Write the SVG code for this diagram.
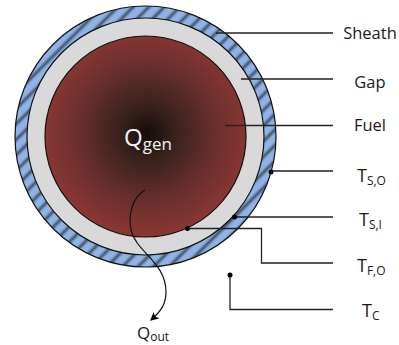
<svg xmlns="http://www.w3.org/2000/svg" width="399" height="345" viewBox="0 0 399 345">
<style>
text{font-family:"Open Sans","Noto Sans",sans-serif;fill:#1a1a1a}
.lab{font-size:16.500px;text-anchor:middle}
.tl{font-size:18px}
.sub{font-size:12px}
.c{fill:none;stroke:#111;stroke-width:1.2}
.l{fill:none;stroke:#222;stroke-width:1.3}
.d{fill:#000}
</style>
<defs>
<pattern id="hatch" width="11" height="11" patternUnits="userSpaceOnUse" patternTransform="rotate(45 145 136)">
<rect width="11" height="11" fill="#8fb4e6"/>
<rect x="0" width="2.800" height="11" fill="#2a3240"/>
</pattern>
<filter id="soft" x="-5%" y="-5%" width="110%" height="110%"><feGaussianBlur stdDeviation="0.9"/></filter>
<clipPath id="ring"><circle cx="145.500" cy="136.500" r="130.500"/></clipPath>
<radialGradient id="fuelg" gradientUnits="userSpaceOnUse" cx="147" cy="133" r="103">
<stop offset="0" stop-color="#150d0c"/>
<stop offset="0.25" stop-color="#35201c"/>
<stop offset="0.6" stop-color="#622d2a"/>
<stop offset="1" stop-color="#8a3733"/>
</radialGradient>
<marker id="arr" markerWidth="8" markerHeight="8" refX="6" refY="4" orient="auto"><path d="M0,0.500L7,4L0,7.500L1.500,4Z" fill="#000"/></marker>
</defs>
<g id="sheath"><g clip-path="url(#ring)"><rect x="5" y="-4" width="281" height="281" fill="url(#hatch)" filter="url(#soft)"/></g><circle cx="145.500" cy="136.500" r="130.500" class="c"/></g>
<g id="gap"><circle cx="145.500" cy="136.500" r="118.500" fill="#d9d9d9" stroke="#111" stroke-width="1.200"/></g>
<g id="fuel"><circle cx="145.500" cy="136.500" r="100.500" fill="url(#fuelg)" stroke="#111" stroke-width="1.200"/>
<text x="124" y="146" style="font-size:24px;fill:#f2f2f2">Q<tspan dy="4" style="font-size:17px;fill:#f2f2f2">gen</tspan></text></g>
<g id="connectors">
<path class="l" d="M216 33H333"/>
<path class="l" d="M241 79H333"/>
<path class="l" d="M225 125.500H333"/>
<path class="l" d="M271 171H333"/>
<path class="l" d="M234 217H333"/>
<path class="l" d="M187 228.500H261.500V263H333"/>
<path class="l" d="M230 275V309.500H333"/>
<circle class="d" cx="271" cy="172" r="2.500"/>
<circle class="d" cx="234.500" cy="217" r="2.500"/>
<circle class="d" cx="187.500" cy="228.500" r="2.500"/>
<circle class="d" cx="230" cy="275" r="2.500"/>
<path class="c" d="M145 190C132 198 128 215 131 230C136 252 166 262 166 292C166 305 160 312 151 320" marker-end="url(#arr)"/>
</g>
<g id="labels">
<text class="lab" x="370" y="39">Sheath</text>
<text class="lab" x="370" y="88">Gap</text>
<text class="lab" x="370" y="131">Fuel</text>
<text class="tl" x="357" y="182">T<tspan class="sub" dy="3">S,O</tspan></text>
<text class="tl" x="359" y="226">T<tspan class="sub" dy="3">S,I</tspan></text>
<text class="tl" x="357" y="272">T<tspan class="sub" dy="3">F,O</tspan></text>
<text class="tl" x="362" y="317">T<tspan class="sub" dy="3">C</tspan></text>
<text x="137" y="339" style="font-size:17px">Q<tspan class="sub" dy="2">out</tspan></text>
</g>
</svg>
